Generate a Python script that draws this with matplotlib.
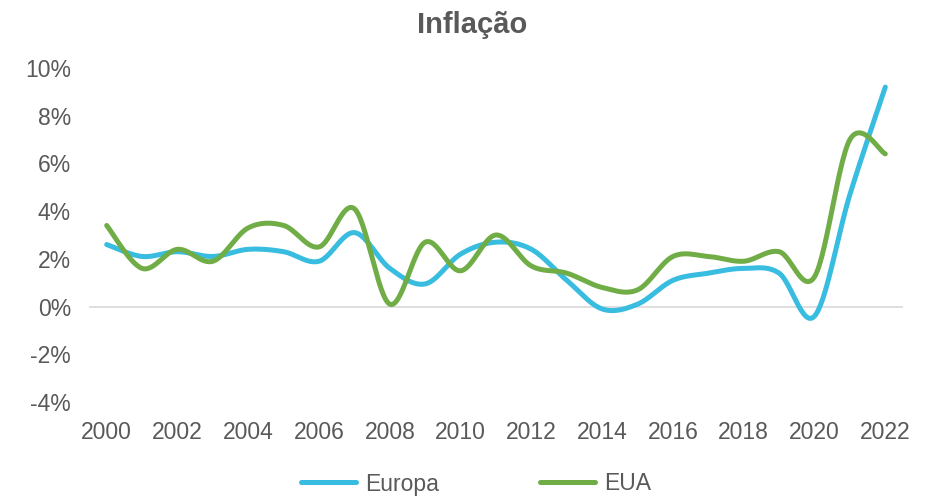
import numpy as np
import matplotlib
matplotlib.use("Agg")
import matplotlib.pyplot as plt

plt.rcParams['font.family'] = ['Liberation Sans', 'DejaVu Sans']

years = list(range(2000, 2023))
europa = [2.6, 2.1, 2.3, 2.1, 2.4, 2.3, 1.9, 3.1, 1.6, 0.95, 2.2, 2.7,
          2.4, 1.1, -0.1, 0.1, 1.1, 1.4, 1.6, 1.4, -0.4, 4.7, 9.2]
eua = [3.4, 1.6, 2.4, 1.9, 3.3, 3.4, 2.5, 4.1, 0.1, 2.7, 1.5, 3.0,
       1.7, 1.4, 0.8, 0.7, 2.1, 2.1, 1.9, 2.3, 1.25, 7.0, 6.4]
series_names = ['Europa', 'EUA']
series_colors = ['#38BCDF', '#70AD47']
yticks = [-4, -2, 0, 2, 4, 6, 8, 10]
xticks = list(range(2000, 2023, 2))

TXT = '#595959'


def smooth(x, y, n=30):
    # Excel style smoothed line: Catmull-Rom segments drawn as cubic Beziers
    x = np.asarray(x, float)
    y = np.asarray(y, float)
    px = np.concatenate([[x[0]], x, [x[-1]]])
    py = np.concatenate([[y[0]], y, [y[-1]]])
    t = np.linspace(0, 1, n)[:, None]
    xs, ys = [], []
    for i in range(1, len(px) - 2):
        p0 = np.array([px[i], py[i]])
        p3 = np.array([px[i + 1], py[i + 1]])
        c1 = p0 + (p3 - np.array([px[i - 1], py[i - 1]])) / 6.0
        c2 = p3 - (np.array([px[i + 2], py[i + 2]]) - p0) / 6.0
        b = ((1 - t) ** 3) * p0 + 3 * ((1 - t) ** 2) * t * c1 + 3 * (1 - t) * t ** 2 * c2 + t ** 3 * p3
        xs.append(b[:, 0])
        ys.append(b[:, 1])
    return np.concatenate(xs), np.concatenate(ys)


fig = plt.figure(figsize=(9.27, 4.99), dpi=100)
ax = fig.add_axes([89 / 927, 1 - 402 / 499, (903 - 89) / 927, (402 - 68) / 499])

ax.axhline(0, color='#D9D9D9', lw=1.2, zorder=1)

for name, vals, col in zip(series_names, [europa, eua], series_colors):
    sx, sy = smooth(years, vals)
    ax.plot(sx, sy, color=col, lw=3.6, solid_capstyle='round',
            solid_joinstyle='round', label=name, zorder=3)

ax.set_xlim(1999.5, 2022.5)
ax.set_ylim(-4, 10)
ax.set_yticks(yticks)
ax.set_yticklabels([f'{v}%' for v in yticks])
ax.set_xticks(xticks)
ax.set_xticklabels([str(v) for v in xticks])
ax.tick_params(axis='both', length=0, labelsize=16.5, labelcolor=TXT)
ax.tick_params(axis='x', pad=14)
ax.tick_params(axis='y', pad=13)
for s in ax.spines.values():
    s.set_visible(False)

fig.text(472 / 927, 1 - 25 / 499, 'Inflação', ha='center', va='center',
         fontsize=21, fontweight='bold', color=TXT)

leg = fig.legend(loc='center', bbox_to_anchor=(476 / 927, 1 - 484 / 499), ncol=2,
                 frameon=False, fontsize=16.5, handlelength=2.4,
                 handletextpad=0.4, columnspacing=4.4)
for t in leg.get_texts():
    t.set_color(TXT)

fig.savefig('out.png', dpi=100)
